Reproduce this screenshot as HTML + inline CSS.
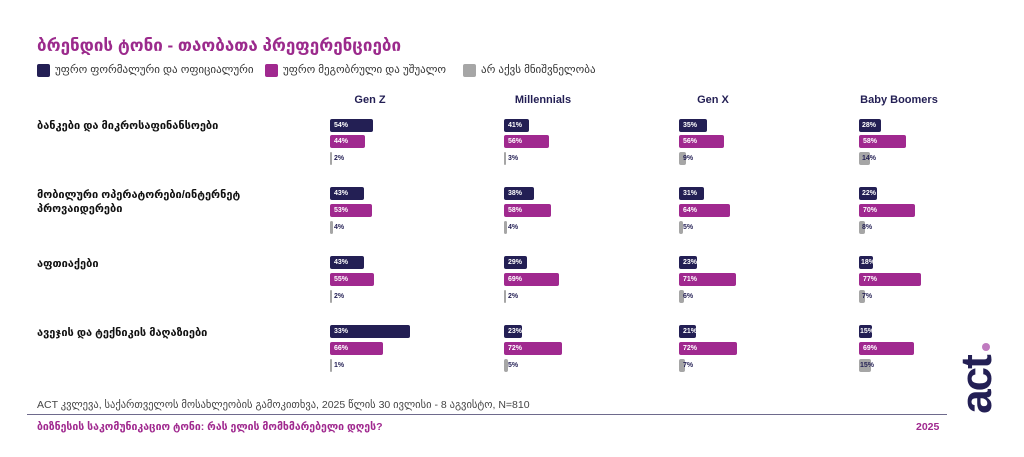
<!DOCTYPE html>
<html><head><meta charset="utf-8"><style>
body{margin:0;width:1024px;height:457px;background:#fff;position:relative;overflow:hidden;font-family:"Liberation Sans","DejaVu Sans",sans-serif}
.a{position:absolute;white-space:nowrap}
.t{left:37px;top:36px;font-size:17px;font-weight:bold;color:#9b2a8c}
.lg{top:63px;font-size:11px;color:#333}
.sw{position:absolute;width:13px;height:13px;border-radius:2px;top:64px}
.h{top:94px;font-size:11px;font-weight:bold;color:#231f54;width:120px;text-align:center}
.c{left:37px;font-size:11px;font-weight:bold;color:#111;line-height:14px}
.b{position:absolute;height:13px;border-radius:2px}
.d{background:#231f54}.m{background:#a0298f}.g{background:#a6a6a6}
.v{position:absolute;font-size:7px;font-weight:bold;line-height:13px}
.w{color:#fff}.k{color:#231f54}
</style></head><body>
<div class="a t">ბრენდის ტონი - თაობათა პრეფერენციები</div>
<div class="sw" style="left:37px;background:#231f54"></div><div class="a lg" style="left:55px">უფრო ფორმალური და ოფიციალური</div>
<div class="sw" style="left:265px;background:#a0298f"></div><div class="a lg" style="left:283px">უფრო მეგობრული და უშუალო</div>
<div class="sw" style="left:463px;background:#a6a6a6"></div><div class="a lg" style="left:481px">არ აქვს მნიშვნელობა</div>
<div class="a h" style="left:310px">Gen Z</div>
<div class="a h" style="left:483px">Millennials</div>
<div class="a h" style="left:653px">Gen X</div>
<div class="a h" style="left:839px">Baby Boomers</div>
<div class="a c" style="top:119px">ბანკები და მიკროსაფინანსოები</div>
<div class="a c" style="top:188px">მობილური ოპერატორები/ინტერნეტ<br>პროვაიდერები</div>
<div class="a c" style="top:257px">აფთიაქები</div>
<div class="a c" style="top:326px">ავეჯის და ტექნიკის მაღაზიები</div>

<div class="b d" style="left:330px;top:119px;width:43px"></div><div class="v w" style="left:334px;top:119px">54%</div>
<div class="b m" style="left:330px;top:135px;width:35px"></div><div class="v w" style="left:334px;top:135px">44%</div>
<div class="b g" style="left:330px;top:152px;width:2px"></div><div class="v k" style="left:334px;top:152px">2%</div>
<div class="b d" style="left:504px;top:119px;width:25px"></div><div class="v w" style="left:508px;top:119px">41%</div>
<div class="b m" style="left:504px;top:135px;width:45px"></div><div class="v w" style="left:508px;top:135px">56%</div>
<div class="b g" style="left:504px;top:152px;width:2px"></div><div class="v k" style="left:508px;top:152px">3%</div>
<div class="b d" style="left:679px;top:119px;width:28px"></div><div class="v w" style="left:683px;top:119px">35%</div>
<div class="b m" style="left:679px;top:135px;width:45px"></div><div class="v w" style="left:683px;top:135px">56%</div>
<div class="b g" style="left:679px;top:152px;width:7px"></div><div class="v k" style="left:683px;top:152px">9%</div>
<div class="b d" style="left:859px;top:119px;width:22px"></div><div class="v w" style="left:862px;top:119px">28%</div>
<div class="b m" style="left:859px;top:135px;width:47px"></div><div class="v w" style="left:863px;top:135px">58%</div>
<div class="b g" style="left:859px;top:152px;width:11px"></div><div class="v k" style="left:862px;top:152px">14%</div>

<div class="b d" style="left:330px;top:187px;width:34px"></div><div class="v w" style="left:334px;top:187px">43%</div>
<div class="b m" style="left:330px;top:204px;width:42px"></div><div class="v w" style="left:334px;top:204px">53%</div>
<div class="b g" style="left:330px;top:221px;width:3px"></div><div class="v k" style="left:334px;top:221px">4%</div>
<div class="b d" style="left:504px;top:187px;width:30px"></div><div class="v w" style="left:508px;top:187px">38%</div>
<div class="b m" style="left:504px;top:204px;width:47px"></div><div class="v w" style="left:508px;top:204px">58%</div>
<div class="b g" style="left:504px;top:221px;width:3px"></div><div class="v k" style="left:508px;top:221px">4%</div>
<div class="b d" style="left:679px;top:187px;width:25px"></div><div class="v w" style="left:683px;top:187px">31%</div>
<div class="b m" style="left:679px;top:204px;width:51px"></div><div class="v w" style="left:683px;top:204px">64%</div>
<div class="b g" style="left:679px;top:221px;width:4px"></div><div class="v k" style="left:683px;top:221px">5%</div>
<div class="b d" style="left:859px;top:187px;width:18px"></div><div class="v w" style="left:862px;top:187px">22%</div>
<div class="b m" style="left:859px;top:204px;width:56px"></div><div class="v w" style="left:863px;top:204px">70%</div>
<div class="b g" style="left:859px;top:221px;width:6px"></div><div class="v k" style="left:862px;top:221px">8%</div>

<div class="b d" style="left:330px;top:256px;width:34px"></div><div class="v w" style="left:334px;top:256px">43%</div>
<div class="b m" style="left:330px;top:273px;width:44px"></div><div class="v w" style="left:334px;top:273px">55%</div>
<div class="b g" style="left:330px;top:290px;width:2px"></div><div class="v k" style="left:334px;top:290px">2%</div>
<div class="b d" style="left:504px;top:256px;width:23px"></div><div class="v w" style="left:508px;top:256px">29%</div>
<div class="b m" style="left:504px;top:273px;width:55px"></div><div class="v w" style="left:508px;top:273px">69%</div>
<div class="b g" style="left:504px;top:290px;width:2px"></div><div class="v k" style="left:508px;top:290px">2%</div>
<div class="b d" style="left:679px;top:256px;width:18px"></div><div class="v w" style="left:683px;top:256px">23%</div>
<div class="b m" style="left:679px;top:273px;width:57px"></div><div class="v w" style="left:683px;top:273px">71%</div>
<div class="b g" style="left:679px;top:290px;width:5px"></div><div class="v k" style="left:683px;top:290px">6%</div>
<div class="b d" style="left:859px;top:256px;width:14px"></div><div class="v w" style="left:861px;top:256px">18%</div>
<div class="b m" style="left:859px;top:273px;width:62px"></div><div class="v w" style="left:863px;top:273px">77%</div>
<div class="b g" style="left:859px;top:290px;width:6px"></div><div class="v k" style="left:862px;top:290px">7%</div>

<div class="b d" style="left:330px;top:325px;width:80px"></div><div class="v w" style="left:334px;top:325px">33%</div>
<div class="b m" style="left:330px;top:342px;width:53px"></div><div class="v w" style="left:334px;top:342px">66%</div>
<div class="b g" style="left:330px;top:359px;width:2px"></div><div class="v k" style="left:334px;top:359px">1%</div>
<div class="b d" style="left:504px;top:325px;width:18px"></div><div class="v w" style="left:508px;top:325px">23%</div>
<div class="b m" style="left:504px;top:342px;width:58px"></div><div class="v w" style="left:508px;top:342px">72%</div>
<div class="b g" style="left:504px;top:359px;width:4px"></div><div class="v k" style="left:508px;top:359px">5%</div>
<div class="b d" style="left:679px;top:325px;width:17px"></div><div class="v w" style="left:683px;top:325px">21%</div>
<div class="b m" style="left:679px;top:342px;width:58px"></div><div class="v w" style="left:683px;top:342px">72%</div>
<div class="b g" style="left:679px;top:359px;width:6px"></div><div class="v k" style="left:683px;top:359px">7%</div>
<div class="b d" style="left:859px;top:325px;width:13px"></div><div class="v w" style="left:860px;top:325px">15%</div>
<div class="b m" style="left:859px;top:342px;width:55px"></div><div class="v w" style="left:863px;top:342px">69%</div>
<div class="b g" style="left:859px;top:359px;width:12px"></div><div class="v k" style="left:860px;top:359px">15%</div>

<div class="a" style="left:37px;top:399px;font-size:10.5px;color:#444">ACT კვლევა, საქართველოს მოსახლეობის გამოკითხვა, 2025 წლის 30 ივლისი - 8 აგვისტო, N=810</div>
<div class="a" style="left:27px;top:414px;width:920px;height:1px;background:#6e6a8c"></div>
<div class="a" style="left:37px;top:421px;font-size:10.5px;font-weight:bold;color:#a0298f">ბიზნესის საკომუნიკაციო ტონი: რას ელის მომხმარებელი დღეს?</div>
<div class="a" style="left:916px;top:421px;font-size:10.5px;font-weight:bold;color:#a0298f">2025</div>
<div class="a" style="left:977px;top:385px;transform:translate(-50%,-50%) rotate(-90deg);font-size:44px;font-weight:900;color:#231f54;letter-spacing:-2px;line-height:1">act</div>
<div class="a" style="left:982px;top:343px;width:8px;height:8px;border-radius:50%;background:#c07bc0"></div>
</body></html>
